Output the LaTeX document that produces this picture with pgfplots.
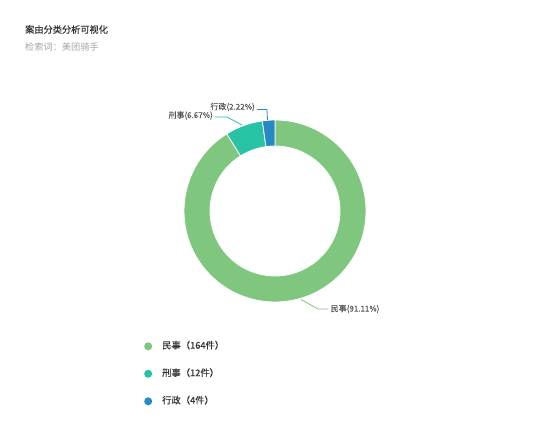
\documentclass[border=0pt]{standalone}
\usepackage{pgfplots}
\usepackage{pgfplotstable}
\pgfplotsset{compat=1.18}
\usepackage{fontspec}
\setmainfont{Noto Sans CJK SC}
\newfontfamily\titlefont[FakeBold=0.35]{Noto Sans CJK SC}
\newfontfamily\midfont[FakeBold=0.15]{Noto Sans CJK SC}

\definecolor{cmin}{HTML}{7FC67F}
\definecolor{cxing}{HTML}{27C3A4}
\definecolor{cxz}{HTML}{2589C4}
\definecolor{ctitle}{HTML}{333333}
\definecolor{csub}{HTML}{A6A6A6}
\definecolor{clabel}{HTML}{555555}

% case counts
\pgfplotstableread{
label count
民事 164
刑事 12
行政 4
}\casedata

% one donut slice: colour, start angle, end angle
\newcommand\slice[3]{%
  \fill[#1, draw=white, line width=0.8pt]
    ([shift={(#2:91pt)}]axis cs:0,0) arc[start angle=#2, end angle=#3, radius=91pt]
    -- ([shift={(#3:65pt)}]axis cs:0,0) arc[start angle=#3, end angle=#2, radius=65pt]
    -- cycle;}

\begin{document}
\begin{tikzpicture}
\pgfplotstablegetelem{0}{count}\of\casedata \let\vA\pgfplotsretval
\pgfplotstablegetelem{1}{count}\of\casedata \let\vB\pgfplotsretval
\pgfplotstablegetelem{2}{count}\of\casedata \let\vC\pgfplotsretval
\pgfmathsetmacro\tot{\vA+\vB+\vC}
\pgfmathsetmacro\aA{90-360*(\vA/\tot)}
\pgfmathsetmacro\aB{\aA-360*(\vB/\tot)}
\pgfmathsetmacro\aC{\aB-360*(\vC/\tot)}

\fill[white] (0,0) rectangle (550pt,444pt);

\begin{axis}[
  at={(0,0)}, anchor=south west,
  x=91pt, y=91pt,
  xmin=-3.0220, xmax=3.0220,
  ymin=-2.5604, ymax=2.3187,
  hide axis,
  legend style={at={(0.2618,0.2297)}, anchor=north west, draw=none, fill=none,
    inner sep=0pt, column sep=10pt, row sep=19.3pt,
    font=\midfont\fontsize{9.3}{10}\selectfont, text=ctitle,
    nodes={inner sep=0pt, text height=6.5pt, text depth=1.7pt}},
  legend cell align=left,
  legend image code/.code={\path[#1] (0pt,0pt) circle (4pt);},
]
  \slice{cmin}{90}{\aA}
  \slice{cxing}{\aA}{\aB}
  \slice{cxz}{\aB}{\aC}

  \addlegendimage{draw=none, fill=cmin}
  \addlegendentry{民事（164件）}
  \addlegendimage{draw=none, fill=cxing}
  \addlegendentry{刑事（12件）}
  \addlegendimage{draw=none, fill=cxz}
  \addlegendentry{行政（4件）}
\end{axis}

% titles and slice labels, in pixel coordinates
\begin{scope}[x=1pt, y=-1pt, shift={(0pt,444pt)}]
  \node[anchor=west, inner sep=0pt, text=ctitle, font=\titlefont\fontsize{9.2}{10}\selectfont] at (25,29.5) {案由分类分析可视化};
  \node[anchor=west, inner sep=0pt, text=csub, font=\fontsize{9.2}{10}\selectfont] at (25,46.5) {检索词：美团骑手};

  \draw[cmin, line width=0.8pt] (301,299.5) -- (318,309) -- (328,309);
  \node[anchor=west, inner sep=0pt, text=clabel, font=\midfont\fontsize{8}{9}\selectfont] at (330.5,309) {民事(91.11\%)};

  \draw[cxing, line width=0.8pt] (242,125) -- (227,117) -- (215,117);
  \node[anchor=east, inner sep=0pt, text=clabel, font=\midfont\fontsize{8}{9}\selectfont] at (213,115.5) {刑事(6.67\%)};

  \draw[cxz, line width=0.8pt] (267.5,120) -- (267,109.5) -- (257,109.5);
  \node[anchor=east, inner sep=0pt, text=clabel, font=\midfont\fontsize{8}{9}\selectfont] at (255,107) {行政(2.22\%)};
\end{scope}
\end{tikzpicture}
\end{document}
